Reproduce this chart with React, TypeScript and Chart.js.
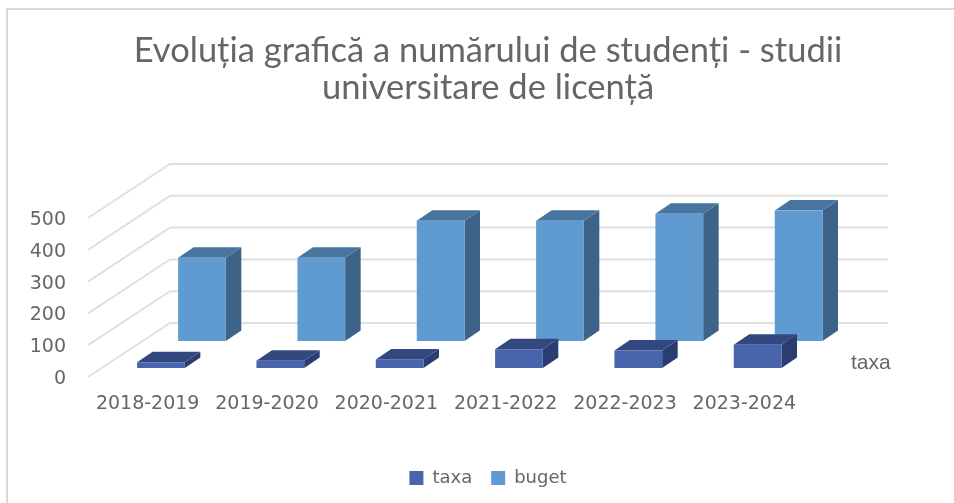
import React, { useEffect, useRef } from "react";
import { Chart, registerables } from "chart.js";

Chart.register(...registerables);

const categories = ["2018-2019", "2019-2020", "2020-2021", "2021-2022", "2022-2023", "2023-2024"];
const taxa = [18, 23, 27, 59, 55, 73];
const buget = [262, 262, 378, 378, 400, 410];
const titleLines = ["Evoluția grafică a numărului de studenți - studii", "universitare de licență"];

const TEXT = "#666666";
const GRID = "#e0e0e0";
const wallShift = { x: 82, y: -54 };
const barDepth = { x: 15.5, y: -10.5 };
const seriesShift = [
  { x: 13.3, y: -9, side: "#2b3c71", top: "#32487f" },
  { x: 54.3, y: -36, side: "#3d6488", top: "#47759f" },
];

const scene3d = {
  id: "scene3d",
  beforeDraw(chart: any) {
    const { ctx, scales, chartArea } = chart;
    ctx.save();
    ctx.strokeStyle = "#d9d9d9";
    ctx.lineWidth = 2;
    ctx.beginPath();
    ctx.moveTo(7, 503);
    ctx.lineTo(7, 9);
    ctx.lineTo(954, 9);
    ctx.stroke();
    ctx.strokeStyle = GRID;
    ctx.lineWidth = 2;
    const wallRight = 888;
    for (const t of scales.y.ticks) {
      const y = scales.y.getPixelForValue(t.value);
      ctx.beginPath();
      ctx.moveTo(chartArea.left, y);
      ctx.lineTo(chartArea.left + wallShift.x, y + wallShift.y);
      ctx.lineTo(wallRight, y + wallShift.y);
      ctx.stroke();
    }
    ctx.restore();
  },
  beforeDatasetDraw(chart: any, args: any) {
    const { ctx } = chart;
    const i = args.index;
    const s = seriesShift[i];
    const fill = chart.data.datasets[i].backgroundColor;
    ctx.save();
    for (const el of args.meta.data) {
      const l = el.x - el.width / 2 + s.x;
      const r = el.x + el.width / 2 + s.x;
      const t = el.y + s.y;
      const b = el.base + s.y;
      ctx.fillStyle = s.side;
      ctx.beginPath();
      ctx.moveTo(r, t);
      ctx.lineTo(r + barDepth.x, t + barDepth.y);
      ctx.lineTo(r + barDepth.x, b + barDepth.y);
      ctx.lineTo(r, b);
      ctx.closePath();
      ctx.fill();
      ctx.fillStyle = s.top;
      ctx.beginPath();
      ctx.moveTo(l, t);
      ctx.lineTo(l + barDepth.x, t + barDepth.y);
      ctx.lineTo(r + barDepth.x, t + barDepth.y);
      ctx.lineTo(r, t);
      ctx.closePath();
      ctx.fill();
      ctx.fillStyle = fill;
      ctx.fillRect(l, t, r - l, b - t);
    }
    ctx.restore();
    return false;
  },
  afterDraw(chart: any) {
    const { ctx } = chart;
    ctx.save();
    ctx.fillStyle = TEXT;
    ctx.font = "21px 'Liberation Sans'";
    ctx.textAlign = "left";
    ctx.textBaseline = "middle";
    ctx.fillText(chart.data.datasets[0].label, 851, 363);
    ctx.restore();
  },
};

export default function App() {
  const ref = useRef<HTMLCanvasElement>(null);
  useEffect(() => {
    const chart = new Chart(ref.current!, {
      type: "bar",
      data: {
        labels: categories,
        datasets: [
          { label: "taxa", data: taxa, backgroundColor: "#4764ad" },
          { label: "buget", data: buget, backgroundColor: "#5f9bd1" },
        ],
      },
      plugins: [scene3d],
      options: {
        responsive: false,
        animation: false,
        layout: { padding: { left: 22, top: 32, bottom: 6, right: 0 } },
        datasets: { bar: { grouped: false, barPercentage: 0.4, categoryPercentage: 1 } },
        plugins: {
          tooltip: { enabled: false },
          title: {
            display: true,
            text: titleLines,
            color: TEXT,
            font: { family: "Lato", size: 34.5, weight: "normal", lineHeight: 1.087 },
            padding: { top: 0, bottom: 111 },
          },
          legend: {
            position: "bottom",
            labels: {
              color: TEXT,
              font: { family: "'DejaVu Sans'", size: 18 },
              boxWidth: 14,
              boxHeight: 14,
              padding: 19,
            },
          },
        },
        scales: {
          x: {
            type: "category",
            grid: { display: false },
            border: { display: false },
            ticks: {
              color: TEXT,
              font: { family: "'DejaVu Sans'", size: 19 },
              autoSkip: false,
              maxRotation: 0,
              padding: 8,
            },
            afterFit(scale: any) {
              scale.height = 73;
            },
          },
          y: {
            min: 0,
            max: 500,
            position: "left",
            grid: { display: false },
            border: { display: false },
            ticks: {
              stepSize: 100,
              color: TEXT,
              font: { family: "'DejaVu Sans'", size: 19 },
              padding: 14,
              labelOffset: 2,
            },
            afterFit(scale: any) {
              scale.width = 66;
            },
          },
          depth: {
            type: "linear",
            position: "right",
            grid: { display: false },
            border: { display: false },
            ticks: { display: false },
            afterFit(scale: any) {
              scale.width = 150;
            },
          },
        },
      } as any,
    });
    return () => chart.destroy();
  }, []);
  return (
    <div style={{ position: "absolute", left: 0, top: 0, width: 954, height: 503, background: "#fff" }}>
      <canvas ref={ref} width={954} height={503} style={{ display: "block", filter: "blur(0.5px)" }} />
    </div>
  );
}
